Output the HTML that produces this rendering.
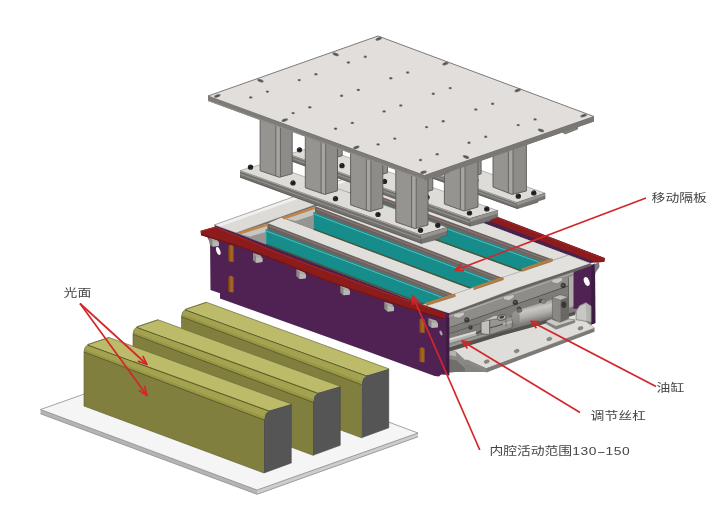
<!DOCTYPE html>
<html lang="zh">
<head>
<meta charset="utf-8">
<title>模具结构示意图</title>
<style>
html,body{margin:0;padding:0;background:#fff;}
body{width:725px;height:506px;overflow:hidden;font-family:"Liberation Sans","Noto Sans CJK SC",sans-serif;}
svg{display:block;}
</style>
</head>
<body>
<svg width="725" height="506" viewBox="0 0 725 506">
<rect width="725" height="506" fill="#ffffff"/>
<defs><filter id="soft" x="0" y="0" width="725" height="506" filterUnits="userSpaceOnUse"><feGaussianBlur stdDeviation="0.55"/></filter></defs>
<g filter="url(#soft)">
<polygon points="370,180 377,183 568,255 590,263 604.5,261.5 604.8,258 420,187" fill="#4a2050"/>
<polygon points="380,172.5 604.8,258.2 604.3,261.8 597,262.8 380,178.5" fill="#8c1e1a"/>
<polygon points="380,172.5 604.8,258.2 604.6,259.6 380,174" fill="#9a2622"/>
<polygon points="214,225 236,233 377,183 355,175" fill="#dddbd7" stroke="#8c8a87" stroke-width="0.7" stroke-linejoin="round"/>
<polygon points="216,225 220,226.4 361,176.4 357,175" fill="#f1f0ee"/>
<polygon points="236,233 424,305.2 568,255 377,183" fill="#6f6a67"/>
<polygon points="267.5,223.5 455,295.2 472,289.5 281.5,217.5" fill="#e1dfdb"/>
<polyline points="267.5,223.5 455,295.2" fill="none" stroke="#6a6560" stroke-width="0.6" stroke-linecap="butt" stroke-linejoin="round"/>
<polygon points="315,206.5 503,278.5 521,271.5 330,201.5" fill="#e1dfdb"/>
<polyline points="315,206.5 503,278.5" fill="none" stroke="#6a6560" stroke-width="0.6" stroke-linecap="butt" stroke-linejoin="round"/>
<polygon points="362,190 553,260 568,255 377,183" fill="#e1dfdb"/>
<polyline points="362,190 553,260" fill="none" stroke="#6a6560" stroke-width="0.6" stroke-linecap="butt" stroke-linejoin="round"/>
<polygon points="236,233 267.5,223.5 267.5,229.5 266,244.5" fill="#979592"/>
<polygon points="238,233.5 267.5,223.5 267.5,231.5 250,236.5" fill="#c8c6c3"/>
<polygon points="267.5,223.5 455,295.2 452,297.4 267.5,229.5" fill="#6e615e"/>
<polyline points="269.5,226.1 453,296.4" fill="none" stroke="#8b8583" stroke-width="0.8" stroke-linecap="butt" stroke-linejoin="round"/>
<polygon points="266,229.1 448.8,298.4 427,305.2 266,243.9" fill="#138d8b"/>
<polyline points="266.5,231.1 445.8,298.8" fill="none" stroke="#56b9b9" stroke-width="1" stroke-linecap="butt" stroke-linejoin="round"/>
<polyline points="266,229.1 266,243.9" fill="none" stroke="#3fb0ae" stroke-width="1" stroke-linecap="butt" stroke-linejoin="round"/>
<polyline points="266,244.1 426,305" fill="none" stroke="#48593a" stroke-width="1.4" stroke-linecap="butt" stroke-linejoin="round"/>
<polygon points="236,233 267.5,223.5 268,225.7 238.5,235" fill="#c08445"/>
<polygon points="281.5,217.5 315,206.5 315,212.5 313.5,229.6" fill="#979592"/>
<polygon points="283.5,218 315,206.5 315,214.5 295.5,221" fill="#c8c6c3"/>
<polygon points="315,206.5 503,278.5 500,280.7 315,212.5" fill="#6e615e"/>
<polyline points="317,209.1 501,279.7" fill="none" stroke="#8b8583" stroke-width="0.8" stroke-linecap="butt" stroke-linejoin="round"/>
<polygon points="313.5,212.1 496.8,281.9 475,289.5 313.5,229" fill="#138d8b"/>
<polyline points="314,214.1 493.8,282.3" fill="none" stroke="#56b9b9" stroke-width="1" stroke-linecap="butt" stroke-linejoin="round"/>
<polyline points="313.5,212.1 313.5,229" fill="none" stroke="#3fb0ae" stroke-width="1" stroke-linecap="butt" stroke-linejoin="round"/>
<polyline points="313.5,229.2 474,289.3" fill="none" stroke="#48593a" stroke-width="1.4" stroke-linecap="butt" stroke-linejoin="round"/>
<polygon points="281.5,217.5 315,206.5 315.5,208.7 284,219.5" fill="#c08445"/>
<polygon points="330,201.5 362,190 362,196 360.5,212.7" fill="#979592"/>
<polygon points="332,202 362,190 362,198 344,205" fill="#c8c6c3"/>
<polygon points="362,190 553,260 550,262.2 362,196" fill="#6e615e"/>
<polyline points="364,192.6 551,261.2" fill="none" stroke="#8b8583" stroke-width="0.8" stroke-linecap="butt" stroke-linejoin="round"/>
<polygon points="360.5,195.7 546.6,263.5 524,271.5 360.5,212.1" fill="#138d8b"/>
<polyline points="361,197.7 543.6,263.9" fill="none" stroke="#56b9b9" stroke-width="1" stroke-linecap="butt" stroke-linejoin="round"/>
<polyline points="360.5,195.7 360.5,212.1" fill="none" stroke="#3fb0ae" stroke-width="1" stroke-linecap="butt" stroke-linejoin="round"/>
<polyline points="360.5,212.3 523,271.3" fill="none" stroke="#48593a" stroke-width="1.4" stroke-linecap="butt" stroke-linejoin="round"/>
<polygon points="330,201.5 362,190 362.5,192.2 332.5,203.5" fill="#c08445"/>
<polygon points="422.5,304.8 449,313.4 515,288.8 590.5,263.6 568.6,255" fill="#e3e1dd" stroke="#8c8a87" stroke-width="0.5" stroke-linejoin="round"/>
<polyline points="426,304.2 455.4,294.9" fill="none" stroke="#b97c3c" stroke-width="2.8" stroke-linecap="butt" stroke-linejoin="round"/>
<polyline points="426,305.7 455.4,296.4" fill="none" stroke="#7a6a58" stroke-width="0.6" stroke-linecap="butt" stroke-linejoin="round"/>
<polyline points="473.5,288.3 503.5,278.2" fill="none" stroke="#b97c3c" stroke-width="2.8" stroke-linecap="butt" stroke-linejoin="round"/>
<polyline points="473.5,289.8 503.5,279.7" fill="none" stroke="#7a6a58" stroke-width="0.6" stroke-linecap="butt" stroke-linejoin="round"/>
<polyline points="522,269.9 552.5,259.7" fill="none" stroke="#b97c3c" stroke-width="2.8" stroke-linecap="butt" stroke-linejoin="round"/>
<polyline points="522,271.4 552.5,261.2" fill="none" stroke="#7a6a58" stroke-width="0.6" stroke-linecap="butt" stroke-linejoin="round"/>
<polygon points="449,313 590.5,263.6 595,265 595,323 486,372 449,372" fill="#858380"/>
<polygon points="449,313.4 515,288.8 590.5,263.6 590.5,266 515,291.2 449,315.8" fill="#64625f"/>
<polygon points="449,315.6 574,272 574,273.6 449,317.2" fill="#adaba8"/>
<polygon points="449,317.2 574,273.6 574,283 449,327" fill="#8f8d8a"/>
<polyline points="450,327.6 531,299.2 574,284" fill="none" stroke="#4f4d4b" stroke-width="1" stroke-linecap="butt" stroke-linejoin="round"/>
<polygon points="449,328 574,284.5 574,312 449,348" fill="#7d7b78"/>
<polyline points="450,333.5 480,323.5" fill="none" stroke="#5a5856" stroke-width="0.8" stroke-linecap="butt" stroke-linejoin="round"/>
<polygon points="453.7,313.9 464.2,311.9 464.2,315.1 459.2,318.1 453.7,316.9" fill="#c9c7c4" stroke="#6d6b69" stroke-width="0.4" stroke-linejoin="round"/>
<polygon points="503.5,296.4 514,294.4 514,297.6 509,300.6 503.5,299.4" fill="#c9c7c4" stroke="#6d6b69" stroke-width="0.4" stroke-linejoin="round"/>
<polygon points="552,279.4 562.5,277.4 562.5,280.6 557.5,283.6 552,282.4" fill="#c9c7c4" stroke="#6d6b69" stroke-width="0.4" stroke-linejoin="round"/>
<ellipse cx="466.8" cy="319.9" rx="2.6" ry="2.7" fill="#3a3938"/>
<ellipse cx="466.4" cy="319.3" rx="1.2" ry="1" fill="#5c5b59"/>
<ellipse cx="470.5" cy="327.4" rx="2.1" ry="2.2" fill="#3a3938"/>
<ellipse cx="470.1" cy="326.8" rx="0.9" ry="0.8" fill="#5c5b59"/>
<ellipse cx="515.3" cy="302.5" rx="2.6" ry="2.7" fill="#3a3938"/>
<ellipse cx="514.9" cy="301.9" rx="1.2" ry="1" fill="#5c5b59"/>
<ellipse cx="519" cy="308.7" rx="2.1" ry="2.2" fill="#3a3938"/>
<ellipse cx="518.6" cy="308.1" rx="0.9" ry="0.8" fill="#5c5b59"/>
<ellipse cx="563.2" cy="285.5" rx="2.6" ry="2.7" fill="#3a3938"/>
<ellipse cx="562.8" cy="284.9" rx="1.2" ry="1" fill="#5c5b59"/>
<ellipse cx="541" cy="301" rx="2" ry="2.1" fill="#3a3938"/>
<ellipse cx="540.6" cy="300.4" rx="0.9" ry="0.8" fill="#5c5b59"/>
<polygon points="451,351 500,335.5 575,313 594.5,328 486.3,368.6 467.4,360 464.9,360.2 456.2,352" fill="#dfddd9" stroke="#7f7d7a" stroke-width="0.5" stroke-linejoin="round"/>
<polygon points="456.2,352 464.9,360.2 464.9,364.8 456.2,356.6" fill="#8b8986"/>
<polygon points="464.9,360.2 467.4,360 486.3,368.6 486.3,372.6 467.4,364 464.9,364.8" fill="#8a8885"/>
<polygon points="486.3,368.6 594.5,328 594.5,331.8 486.3,372.6" fill="#7b7976"/>
<polygon points="449,350 456.2,352 456.2,356.6 464.9,364.8 464.9,371.2 449,372.5" fill="#8a8885"/>
<polygon points="449,350 456.2,352 456.2,356.6 449,355" fill="#b4b2af"/>
<polygon points="449,359 456.5,360.5 464.9,368 464.9,371.2 449,372.5" fill="#6f6d6a"/>
<ellipse cx="486.7" cy="361.6" rx="2.6" ry="1.6" fill="#8b8986" transform="rotate(-18 486.7 361.6)" stroke="#6b6966" stroke-width="0.5"/>
<ellipse cx="516.7" cy="351" rx="2.6" ry="1.6" fill="#8b8986" transform="rotate(-18 516.7 351)" stroke="#6b6966" stroke-width="0.5"/>
<ellipse cx="549.3" cy="339" rx="2.6" ry="1.6" fill="#8b8986" transform="rotate(-18 549.3 339)" stroke="#6b6966" stroke-width="0.5"/>
<ellipse cx="580.5" cy="328.3" rx="2.6" ry="1.6" fill="#8b8986" transform="rotate(-18 580.5 328.3)" stroke="#6b6966" stroke-width="0.5"/>
<polygon points="449,347.6 500,332.2 541.5,321 575,311.6 575,315 541.5,324.8 500,336 449,351.6" fill="#55534f"/>
<polygon points="449,345.6 512,325.2 512,326.8 449,347.6" fill="#9d9b98"/>
<polygon points="449,338.6 476.1,331.1 476.6,336.5 449,344.8" fill="#b7b5b1"/>
<polygon points="449,338.6 476.1,331.1 476.3,332.9 449,340.6" fill="#d9d7d3"/>
<polygon points="449,343.2 476.5,335.2 476.6,336.5 449,344.8" fill="#84827f"/>
<polyline points="476,333.5 482,330.5" fill="none" stroke="#4e4c4a" stroke-width="1.8" stroke-linecap="butt" stroke-linejoin="round"/>
<polygon points="481.1,321.8 489.8,319.9 489.8,334.8 481.1,333.6" fill="#c2c0bc" stroke="#4f4d4b" stroke-width="0.7" stroke-linejoin="round"/>
<polygon points="489.8,319.9 512.2,316.4 512.2,327.6 489.8,334.8" fill="#989693" stroke="#4f4d4b" stroke-width="0.6" stroke-linejoin="round"/>
<polygon points="481.1,321.8 494.5,315.6 512.2,316.4 489.8,319.9" fill="#c9c7c3" stroke="#5f5d5b" stroke-width="0.5" stroke-linejoin="round"/>
<ellipse cx="501.8" cy="317.6" rx="4.6" ry="2.7" fill="#a9a7a4" transform="rotate(-12 501.8 317.6)" stroke="#4f4d4b" stroke-width="0.8"/>
<ellipse cx="501.8" cy="317.2" rx="2.3" ry="1.3" fill="#3a3938" transform="rotate(-12 501.8 317.2)"/>
<polyline points="489.8,328 512.2,321.5" fill="none" stroke="#4b4a48" stroke-width="1" stroke-linecap="butt" stroke-linejoin="round"/>
<polygon points="503,323.3 512.2,320.7 512.2,322.6 503,325.2" fill="#b9b7b4"/>
<polyline points="506,318.5 506,326.5" fill="none" stroke="#5f5d5b" stroke-width="0.7" stroke-linecap="butt" stroke-linejoin="round"/>
<defs><linearGradient id="cyl" gradientUnits="userSpaceOnUse" x1="534" y1="304.5" x2="538" y2="321.5"><stop offset="0" stop-color="#a5a3a0"/><stop offset="0.25" stop-color="#cac8c4"/><stop offset="0.6" stop-color="#aeaca9"/><stop offset="1" stop-color="#787673"/></linearGradient></defs>
<polygon points="512.4,318 512.8,313.6 515.2,311 519,309.8 556,298.2 556,315.2 519.5,325 515.4,324.2 513,321.6" fill="url(#cyl)"/>
<polygon points="512.4,318 512.8,313.6 515.2,311 519,309.8 519.8,317 519.5,325 515.4,324.2 513,321.6" fill="#84827f" opacity="0.75"/>
<ellipse cx="519.4" cy="310.4" rx="2.6" ry="2" fill="#6f6d6a" stroke="#4f4d4b" stroke-width="0.5"/>
<ellipse cx="543.5" cy="301.4" rx="2.6" ry="2" fill="#8a8885" stroke="#55534f" stroke-width="0.5"/>
<polygon points="552.4,297.5 560,294.8 568.5,297 568.5,318.5 560,322 552.4,319" fill="#8a8885" stroke="#55534f" stroke-width="0.5" stroke-linejoin="round"/>
<polygon points="552.4,297.5 560,294.8 568.5,297 560.5,300.2" fill="#bdbbb8" stroke="#55534f" stroke-width="0.4" stroke-linejoin="round"/>
<polygon points="560.5,300.2 568.5,297 568.5,318.5 560.5,322" fill="#6a6865"/>
<ellipse cx="563.8" cy="304.8" rx="2.6" ry="3.2" fill="#383736"/>
<polygon points="546.8,320.6 552.4,318.6 552.4,319.4 560,322.4 569,319 574.8,319.8 574.8,322.5 556,329.2 546.8,324" fill="#cbc9c5" stroke="#605e5c" stroke-width="0.5" stroke-linejoin="round"/>
<polygon points="546.8,321.8 556,326 574.8,320 574.8,322.5 556,329.2 546.8,324" fill="#84827f"/>
<polygon points="568.5,277.5 573.6,275.6 573.6,306 568.5,308" fill="#b0aeab"/>
<polyline points="568.5,277.5 568.5,308" fill="none" stroke="#55534f" stroke-width="0.7" stroke-linecap="butt" stroke-linejoin="round"/>
<polygon points="573.6,272 590.5,266 595,263.5 595.3,323 591.5,324.5 591.5,307 573.6,309" fill="#4f2352"/>
<polygon points="591.3,266 595,263.5 595.3,323 591.3,324.5" fill="#3d1a42"/>
<polygon points="594.5,264 599,262.5 599.5,267 596,272 595,274" fill="#7b7880"/>
<ellipse cx="586.7" cy="281.5" rx="2.6" ry="4.6" fill="#ffffff" transform="rotate(-22 586.7 281.5)"/>
<polygon points="576,311 579.5,305.5 586,302.4 591.2,306 591.2,322.3 576,319.8" fill="#b5b3b0" stroke="#6d6b69" stroke-width="0.5" stroke-linejoin="round"/>
<polygon points="577,311.5 580.3,306.6 585.8,304 586.5,320.5 577,318.8" fill="#c9c7c4"/>
<polygon points="210,236 440,312 449.2,313.2 449.2,375.4 446.3,374.8 441.2,374.6 439,376.6 434.7,376 365,350.5 220,298.5 220,293.3 210.5,290" fill="#4f2352"/>
<polygon points="446.3,317 449.2,318 449.2,375.4 446.3,374.8" fill="#3d1a42"/>
<polygon points="206,234 212,236.5 212,243 210,243" fill="#6a3f70"/>
<polygon points="228.4,246 231,244.5 233.6,246.3 233.6,262 228.4,261.2" fill="#9c5c22"/>
<polyline points="228.8,246 228.8,261.2" fill="none" stroke="#6e3b12" stroke-width="0.9" stroke-linecap="butt" stroke-linejoin="round"/>
<polyline points="231.8,245.9 231.8,261.7" fill="none" stroke="#ad6c2e" stroke-width="0.9" stroke-linecap="butt" stroke-linejoin="round"/>
<polygon points="228.4,277 231,275.5 233.6,277.3 233.6,292.5 228.4,291.7" fill="#9c5c22"/>
<polyline points="228.8,277 228.8,291.7" fill="none" stroke="#6e3b12" stroke-width="0.9" stroke-linecap="butt" stroke-linejoin="round"/>
<polyline points="231.8,276.9 231.8,292.2" fill="none" stroke="#ad6c2e" stroke-width="0.9" stroke-linecap="butt" stroke-linejoin="round"/>
<polygon points="419.4,319.5 422,318 424.6,319.8 424.6,333 419.4,332.2" fill="#9c5c22"/>
<polyline points="419.8,319.5 419.8,332.2" fill="none" stroke="#6e3b12" stroke-width="0.9" stroke-linecap="butt" stroke-linejoin="round"/>
<polyline points="422.8,319.4 422.8,332.7" fill="none" stroke="#ad6c2e" stroke-width="0.9" stroke-linecap="butt" stroke-linejoin="round"/>
<polygon points="419.4,348.5 422,347 424.6,348.8 424.6,362.5 419.4,361.7" fill="#9c5c22"/>
<polyline points="419.8,348.5 419.8,361.7" fill="none" stroke="#6e3b12" stroke-width="0.9" stroke-linecap="butt" stroke-linejoin="round"/>
<polyline points="422.8,348.4 422.8,362.2" fill="none" stroke="#ad6c2e" stroke-width="0.9" stroke-linecap="butt" stroke-linejoin="round"/>
<ellipse cx="218.3" cy="251" rx="1.9" ry="4.2" fill="#ffffff" transform="rotate(-20 218.3 251)"/>
<ellipse cx="441" cy="333" rx="1.3" ry="2.6" fill="#a9a5aa" transform="rotate(-25 441 333)"/>
<polygon points="209.6,237 217.2,239.4 219,242.4 218.8,246 212.6,246.6 209.6,244" fill="#aaa8a5"/>
<polygon points="209.6,237 212.6,240 212.6,246.6 209.6,244" fill="#898784"/>
<polygon points="212.6,241.2 219,242.4 218.8,246 212.6,246.6" fill="#b9b7b4"/>
<polygon points="253.1,253.1 260.7,255.5 262.5,258.5 262.3,262.1 256.1,262.7 253.1,260.1" fill="#aaa8a5"/>
<polygon points="253.1,253.1 256.1,256.1 256.1,262.7 253.1,260.1" fill="#898784"/>
<polygon points="256.1,257.3 262.5,258.5 262.3,262.1 256.1,262.7" fill="#b9b7b4"/>
<polygon points="296.6,269.3 304.2,271.7 306,274.7 305.8,278.3 299.6,278.9 296.6,276.3" fill="#aaa8a5"/>
<polygon points="296.6,269.3 299.6,272.3 299.6,278.9 296.6,276.3" fill="#898784"/>
<polygon points="299.6,273.5 306,274.7 305.8,278.3 299.6,278.9" fill="#b9b7b4"/>
<polygon points="340.6,285.6 348.2,288 350,291 349.8,294.6 343.6,295.2 340.6,292.6" fill="#aaa8a5"/>
<polygon points="340.6,285.6 343.6,288.6 343.6,295.2 340.6,292.6" fill="#898784"/>
<polygon points="343.6,289.8 350,291 349.8,294.6 343.6,295.2" fill="#b9b7b4"/>
<polygon points="384.6,301.9 392.2,304.3 394,307.3 393.8,310.9 387.6,311.5 384.6,308.9" fill="#aaa8a5"/>
<polygon points="384.6,301.9 387.6,304.9 387.6,311.5 384.6,308.9" fill="#898784"/>
<polygon points="387.6,306.1 394,307.3 393.8,310.9 387.6,311.5" fill="#b9b7b4"/>
<polygon points="428.6,318.2 436.2,320.6 438,323.6 437.8,327.2 431.6,327.8 428.6,325.2" fill="#aaa8a5"/>
<polygon points="428.6,318.2 431.6,321.2 431.6,327.8 428.6,325.2" fill="#898784"/>
<polygon points="431.6,322.4 438,323.6 437.8,327.2 431.6,327.8" fill="#b9b7b4"/>
<polygon points="214.5,225.2 236,233 424,305.2 449.3,313.6 446,317 215.5,229" fill="#4a2050"/>
<polygon points="200.4,230.8 215.5,226.4 245,238.4 275,251 320,268.2 390,293.6 430,307.6 446.5,314 443.5,319 410,309.2 360,292.4 320,278.4 285,264 245,248.6 201,235" fill="#8c1e1a"/>
<polyline points="201,234.6 245,248.2 285,263.6 320,278 360,292 410,308.8 443.5,318.6" fill="none" stroke="#6f1216" stroke-width="1.2" stroke-linecap="butt" stroke-linejoin="round"/>
<polyline points="201.5,231.2 216,227.2 245,239.2 275,251.8 320,269 390,294.4 430,308.4" fill="none" stroke="#a0262a" stroke-width="1" stroke-linecap="butt" stroke-linejoin="round"/>
<polygon points="336,138.1 517,202.6 545,193.2 364,128.7" fill="#dedcd8" stroke="#7f7d7a" stroke-width="0.5" stroke-linejoin="round"/>
<polygon points="336,138.1 517,202.6 517,208.8 336,143.9" fill="#716f6c"/>
<polyline points="336,138.6 517,203.2" fill="none" stroke="#a5a3a0" stroke-width="1" stroke-linecap="butt" stroke-linejoin="round"/>
<polyline points="336,141 517,205.7" fill="none" stroke="#93918e" stroke-width="1.2" stroke-linecap="butt" stroke-linejoin="round"/>
<polyline points="336,143.5 517,208.4" fill="none" stroke="#5e5c5a" stroke-width="0.8" stroke-linecap="butt" stroke-linejoin="round"/>
<polygon points="517,202.6 545,193.2 545,198.8 538,201 538,202.2 517,208.8" fill="#777572" stroke="#555351" stroke-width="0.6" stroke-linejoin="round"/>
<polygon points="517,202.6 545,193.2 545,195.7 517,205.4" fill="#969491"/>
<ellipse cx="348.3" cy="133.2" rx="2.7" ry="2.3" fill="#2a2a2a"/>
<ellipse cx="348.3" cy="132" rx="2.2" ry="1.7" fill="#1a1a1a"/>
<ellipse cx="347.7" cy="131.5" rx="0.9" ry="0.5" fill="#5a5a5a"/>
<ellipse cx="390.8" cy="149" rx="2.7" ry="2.3" fill="#2a2a2a"/>
<ellipse cx="390.8" cy="147.8" rx="2.2" ry="1.7" fill="#1a1a1a"/>
<ellipse cx="390.2" cy="147.3" rx="0.9" ry="0.5" fill="#5a5a5a"/>
<ellipse cx="433.3" cy="164.8" rx="2.7" ry="2.3" fill="#2a2a2a"/>
<ellipse cx="433.3" cy="163.6" rx="2.2" ry="1.7" fill="#1a1a1a"/>
<ellipse cx="432.7" cy="163.1" rx="0.9" ry="0.5" fill="#5a5a5a"/>
<ellipse cx="475.8" cy="180.6" rx="2.7" ry="2.3" fill="#2a2a2a"/>
<ellipse cx="475.8" cy="179.4" rx="2.2" ry="1.7" fill="#1a1a1a"/>
<ellipse cx="475.2" cy="178.9" rx="0.9" ry="0.5" fill="#5a5a5a"/>
<ellipse cx="518.3" cy="196.4" rx="2.7" ry="2.3" fill="#2a2a2a"/>
<ellipse cx="518.3" cy="195.2" rx="2.2" ry="1.7" fill="#1a1a1a"/>
<ellipse cx="517.7" cy="194.7" rx="0.9" ry="0.5" fill="#5a5a5a"/>
<ellipse cx="533.8" cy="193.2" rx="2.7" ry="2.3" fill="#2a2a2a"/>
<ellipse cx="533.8" cy="192" rx="2.2" ry="1.7" fill="#1a1a1a"/>
<ellipse cx="533.2" cy="191.5" rx="0.9" ry="0.5" fill="#5a5a5a"/>
<polygon points="357.2,79.7 376.2,87.1 376.2,143.1 357.2,135.7" fill="#969491"/>
<polygon points="376.2,87.1 390.6,83.7 390.6,139.7 376.2,143.1" fill="#8e8c89"/>
<polygon points="372.6,85.7 377.2,86.8 377.2,142.8 372.6,141.7" fill="#a7a5a2"/>
<polyline points="372.6,85.7 372.6,141.7" fill="none" stroke="#5f5d5b" stroke-width="0.9" stroke-linecap="butt" stroke-linejoin="round"/>
<polyline points="377.2,87.1 377.2,142.8" fill="none" stroke="#5f5d5b" stroke-width="0.9" stroke-linecap="butt" stroke-linejoin="round"/>
<polyline points="357.2,79.7 357.2,135.7 376.2,143.1 390.6,139.7 390.6,83.7" fill="none" stroke="#5a5856" stroke-width="0.9" stroke-linecap="butt" stroke-linejoin="round"/>
<polygon points="402.5,96.8 421.5,104.2 421.5,160.2 402.5,152.8" fill="#969491"/>
<polygon points="421.5,104.2 435.9,100.8 435.9,156.8 421.5,160.2" fill="#8e8c89"/>
<polygon points="417.9,102.8 422.5,103.9 422.5,159.9 417.9,158.8" fill="#a7a5a2"/>
<polyline points="417.9,102.8 417.9,158.8" fill="none" stroke="#5f5d5b" stroke-width="0.9" stroke-linecap="butt" stroke-linejoin="round"/>
<polyline points="422.5,104.2 422.5,159.9" fill="none" stroke="#5f5d5b" stroke-width="0.9" stroke-linecap="butt" stroke-linejoin="round"/>
<polyline points="402.5,96.8 402.5,152.8 421.5,160.2 435.9,156.8 435.9,100.8" fill="none" stroke="#5a5856" stroke-width="0.9" stroke-linecap="butt" stroke-linejoin="round"/>
<polygon points="447.8,113.9 466.8,121.3 466.8,177.3 447.8,169.9" fill="#969491"/>
<polygon points="466.8,121.3 481.1,117.9 481.1,173.9 466.8,177.3" fill="#8e8c89"/>
<polygon points="463.1,119.9 467.8,121 467.8,177 463.1,175.9" fill="#a7a5a2"/>
<polyline points="463.1,119.9 463.1,175.9" fill="none" stroke="#5f5d5b" stroke-width="0.9" stroke-linecap="butt" stroke-linejoin="round"/>
<polyline points="467.8,121.3 467.8,177" fill="none" stroke="#5f5d5b" stroke-width="0.9" stroke-linecap="butt" stroke-linejoin="round"/>
<polyline points="447.8,113.9 447.8,169.9 466.8,177.3 481.1,173.9 481.1,117.9" fill="none" stroke="#5a5856" stroke-width="0.9" stroke-linecap="butt" stroke-linejoin="round"/>
<polygon points="493,131 512,138.4 512,194.4 493,187" fill="#969491"/>
<polygon points="512,138.4 526.4,135 526.4,191 512,194.4" fill="#8e8c89"/>
<polygon points="508.4,137 513,138.1 513,194.1 508.4,193" fill="#a7a5a2"/>
<polyline points="508.4,137 508.4,193" fill="none" stroke="#5f5d5b" stroke-width="0.9" stroke-linecap="butt" stroke-linejoin="round"/>
<polyline points="513,138.4 513,194.1" fill="none" stroke="#5f5d5b" stroke-width="0.9" stroke-linecap="butt" stroke-linejoin="round"/>
<polyline points="493,131 493,187 512,194.4 526.4,191 526.4,135" fill="none" stroke="#5a5856" stroke-width="0.9" stroke-linecap="butt" stroke-linejoin="round"/>
<polygon points="289,154.1 470,218.6 497.6,210.6 316.6,146.1" fill="#dedcd8" stroke="#7f7d7a" stroke-width="0.5" stroke-linejoin="round"/>
<polygon points="289,154.1 470,218.6 470,226.2 289,160.5" fill="#716f6c"/>
<polyline points="289,154.6 470,219.2" fill="none" stroke="#a5a3a0" stroke-width="1" stroke-linecap="butt" stroke-linejoin="round"/>
<polyline points="289,157.3 470,222.4" fill="none" stroke="#93918e" stroke-width="1.2" stroke-linecap="butt" stroke-linejoin="round"/>
<polyline points="289,160.1 470,225.8" fill="none" stroke="#5e5c5a" stroke-width="0.8" stroke-linecap="butt" stroke-linejoin="round"/>
<polygon points="470,218.6 497.6,210.6 497.6,217.4 490.6,219.6 490.6,220.8 470,226.2" fill="#777572" stroke="#555351" stroke-width="0.6" stroke-linejoin="round"/>
<polygon points="470,218.6 497.6,210.6 497.6,213.6 470,222" fill="#969491"/>
<ellipse cx="299.5" cy="150.1" rx="2.7" ry="2.3" fill="#2a2a2a"/>
<ellipse cx="299.5" cy="148.9" rx="2.2" ry="1.7" fill="#1a1a1a"/>
<ellipse cx="298.9" cy="148.4" rx="0.9" ry="0.5" fill="#5a5a5a"/>
<ellipse cx="342" cy="165.9" rx="2.7" ry="2.3" fill="#2a2a2a"/>
<ellipse cx="342" cy="164.7" rx="2.2" ry="1.7" fill="#1a1a1a"/>
<ellipse cx="341.4" cy="164.2" rx="0.9" ry="0.5" fill="#5a5a5a"/>
<ellipse cx="384.5" cy="181.7" rx="2.7" ry="2.3" fill="#2a2a2a"/>
<ellipse cx="384.5" cy="180.5" rx="2.2" ry="1.7" fill="#1a1a1a"/>
<ellipse cx="383.9" cy="180" rx="0.9" ry="0.5" fill="#5a5a5a"/>
<ellipse cx="427" cy="197.5" rx="2.7" ry="2.3" fill="#2a2a2a"/>
<ellipse cx="427" cy="196.3" rx="2.2" ry="1.7" fill="#1a1a1a"/>
<ellipse cx="426.4" cy="195.8" rx="0.9" ry="0.5" fill="#5a5a5a"/>
<ellipse cx="469.5" cy="213.3" rx="2.7" ry="2.3" fill="#2a2a2a"/>
<ellipse cx="469.5" cy="212.1" rx="2.2" ry="1.7" fill="#1a1a1a"/>
<ellipse cx="468.9" cy="211.6" rx="0.9" ry="0.5" fill="#5a5a5a"/>
<ellipse cx="486.8" cy="209.2" rx="2.7" ry="2.3" fill="#2a2a2a"/>
<ellipse cx="486.8" cy="208" rx="2.2" ry="1.7" fill="#1a1a1a"/>
<ellipse cx="486.2" cy="207.5" rx="0.9" ry="0.5" fill="#5a5a5a"/>
<polygon points="308.6,96.7 328.2,103.7 328.2,159.7 308.6,152.7" fill="#969491"/>
<polygon points="328.2,103.7 342.2,99.7 342.2,155.7 328.2,159.7" fill="#8e8c89"/>
<polygon points="324.6,102.4 329.2,103.4 329.2,159.4 324.6,158.4" fill="#a7a5a2"/>
<polyline points="324.6,102.4 324.6,158.4" fill="none" stroke="#5f5d5b" stroke-width="0.9" stroke-linecap="butt" stroke-linejoin="round"/>
<polyline points="329.2,103.7 329.2,159.4" fill="none" stroke="#5f5d5b" stroke-width="0.9" stroke-linecap="butt" stroke-linejoin="round"/>
<polyline points="308.6,96.7 308.6,152.7 328.2,159.7 342.2,155.7 342.2,99.7" fill="none" stroke="#5a5856" stroke-width="0.9" stroke-linecap="butt" stroke-linejoin="round"/>
<polygon points="353.9,113.8 373.5,120.8 373.5,176.8 353.9,169.8" fill="#969491"/>
<polygon points="373.5,120.8 387.5,116.8 387.5,172.8 373.5,176.8" fill="#8e8c89"/>
<polygon points="369.9,119.5 374.5,120.5 374.5,176.5 369.9,175.5" fill="#a7a5a2"/>
<polyline points="369.9,119.5 369.9,175.5" fill="none" stroke="#5f5d5b" stroke-width="0.9" stroke-linecap="butt" stroke-linejoin="round"/>
<polyline points="374.5,120.8 374.5,176.5" fill="none" stroke="#5f5d5b" stroke-width="0.9" stroke-linecap="butt" stroke-linejoin="round"/>
<polyline points="353.9,113.8 353.9,169.8 373.5,176.8 387.5,172.8 387.5,116.8" fill="none" stroke="#5a5856" stroke-width="0.9" stroke-linecap="butt" stroke-linejoin="round"/>
<polygon points="399.1,130.9 418.8,137.9 418.8,193.9 399.1,186.9" fill="#969491"/>
<polygon points="418.8,137.9 432.8,133.9 432.8,189.9 418.8,193.9" fill="#8e8c89"/>
<polygon points="415.1,136.6 419.8,137.6 419.8,193.6 415.1,192.6" fill="#a7a5a2"/>
<polyline points="415.1,136.6 415.1,192.6" fill="none" stroke="#5f5d5b" stroke-width="0.9" stroke-linecap="butt" stroke-linejoin="round"/>
<polyline points="419.8,137.9 419.8,193.6" fill="none" stroke="#5f5d5b" stroke-width="0.9" stroke-linecap="butt" stroke-linejoin="round"/>
<polyline points="399.1,130.9 399.1,186.9 418.8,193.9 432.8,189.9 432.8,133.9" fill="none" stroke="#5a5856" stroke-width="0.9" stroke-linecap="butt" stroke-linejoin="round"/>
<polygon points="444.4,148 464,155 464,211 444.4,204" fill="#969491"/>
<polygon points="464,155 478,151 478,207 464,211" fill="#8e8c89"/>
<polygon points="460.4,153.7 465,154.7 465,210.7 460.4,209.7" fill="#a7a5a2"/>
<polyline points="460.4,153.7 460.4,209.7" fill="none" stroke="#5f5d5b" stroke-width="0.9" stroke-linecap="butt" stroke-linejoin="round"/>
<polyline points="465,155 465,210.7" fill="none" stroke="#5f5d5b" stroke-width="0.9" stroke-linecap="butt" stroke-linejoin="round"/>
<polyline points="444.4,148 444.4,204 464,211 478,207 478,151" fill="none" stroke="#5a5856" stroke-width="0.9" stroke-linecap="butt" stroke-linejoin="round"/>
<polygon points="240,170.5 421,235 447,227.5 266,163" fill="#dedcd8" stroke="#7f7d7a" stroke-width="0.5" stroke-linejoin="round"/>
<polygon points="240,170.5 421,235 421,243.6 240,177.5" fill="#716f6c"/>
<polyline points="240,171 421,235.6" fill="none" stroke="#a5a3a0" stroke-width="1" stroke-linecap="butt" stroke-linejoin="round"/>
<polyline points="240,174 421,239.3" fill="none" stroke="#93918e" stroke-width="1.2" stroke-linecap="butt" stroke-linejoin="round"/>
<polyline points="240,177.1 421,243.2" fill="none" stroke="#5e5c5a" stroke-width="0.8" stroke-linecap="butt" stroke-linejoin="round"/>
<polygon points="421,235 447,227.5 447,235.2 440,237.4 440,238.6 421,243.6" fill="#777572" stroke="#555351" stroke-width="0.6" stroke-linejoin="round"/>
<polygon points="421,235 447,227.5 447,230.9 421,238.9" fill="#969491"/>
<ellipse cx="250.5" cy="167.4" rx="2.7" ry="2.3" fill="#2a2a2a"/>
<ellipse cx="250.5" cy="166.2" rx="2.2" ry="1.7" fill="#1a1a1a"/>
<ellipse cx="249.9" cy="165.7" rx="0.9" ry="0.5" fill="#5a5a5a"/>
<ellipse cx="293" cy="183.2" rx="2.7" ry="2.3" fill="#2a2a2a"/>
<ellipse cx="293" cy="182" rx="2.2" ry="1.7" fill="#1a1a1a"/>
<ellipse cx="292.4" cy="181.5" rx="0.9" ry="0.5" fill="#5a5a5a"/>
<ellipse cx="335.5" cy="199" rx="2.7" ry="2.3" fill="#2a2a2a"/>
<ellipse cx="335.5" cy="197.8" rx="2.2" ry="1.7" fill="#1a1a1a"/>
<ellipse cx="334.9" cy="197.3" rx="0.9" ry="0.5" fill="#5a5a5a"/>
<ellipse cx="378" cy="214.8" rx="2.7" ry="2.3" fill="#2a2a2a"/>
<ellipse cx="378" cy="213.6" rx="2.2" ry="1.7" fill="#1a1a1a"/>
<ellipse cx="377.4" cy="213.1" rx="0.9" ry="0.5" fill="#5a5a5a"/>
<ellipse cx="420.5" cy="230.6" rx="2.7" ry="2.3" fill="#2a2a2a"/>
<ellipse cx="420.5" cy="229.4" rx="2.2" ry="1.7" fill="#1a1a1a"/>
<ellipse cx="419.9" cy="228.9" rx="0.9" ry="0.5" fill="#5a5a5a"/>
<ellipse cx="437.8" cy="225.6" rx="2.7" ry="2.3" fill="#2a2a2a"/>
<ellipse cx="437.8" cy="224.4" rx="2.2" ry="1.7" fill="#1a1a1a"/>
<ellipse cx="437.2" cy="223.9" rx="0.9" ry="0.5" fill="#5a5a5a"/>
<polygon points="260.1,114.7 279.4,121.3 279.4,177.3 260.1,170.7" fill="#969491"/>
<polygon points="279.4,121.3 292.2,117.7 292.2,173.7 279.4,177.3" fill="#8e8c89"/>
<polygon points="275.8,120.1 280.4,121 280.4,177 275.8,176.1" fill="#a7a5a2"/>
<polyline points="275.8,120.1 275.8,176.1" fill="none" stroke="#5f5d5b" stroke-width="0.9" stroke-linecap="butt" stroke-linejoin="round"/>
<polyline points="280.4,121.3 280.4,177" fill="none" stroke="#5f5d5b" stroke-width="0.9" stroke-linecap="butt" stroke-linejoin="round"/>
<polyline points="260.1,114.7 260.1,170.7 279.4,177.3 292.2,173.7 292.2,117.7" fill="none" stroke="#5a5856" stroke-width="0.9" stroke-linecap="butt" stroke-linejoin="round"/>
<polygon points="305.3,131.8 324.7,138.4 324.7,194.4 305.3,187.8" fill="#969491"/>
<polygon points="324.7,138.4 337.5,134.8 337.5,190.8 324.7,194.4" fill="#8e8c89"/>
<polygon points="321.1,137.2 325.7,138.1 325.7,194.1 321.1,193.2" fill="#a7a5a2"/>
<polyline points="321.1,137.2 321.1,193.2" fill="none" stroke="#5f5d5b" stroke-width="0.9" stroke-linecap="butt" stroke-linejoin="round"/>
<polyline points="325.7,138.4 325.7,194.1" fill="none" stroke="#5f5d5b" stroke-width="0.9" stroke-linecap="butt" stroke-linejoin="round"/>
<polyline points="305.3,131.8 305.3,187.8 324.7,194.4 337.5,190.8 337.5,134.8" fill="none" stroke="#5a5856" stroke-width="0.9" stroke-linecap="butt" stroke-linejoin="round"/>
<polygon points="350.6,148.9 369.9,155.5 369.9,211.5 350.6,204.9" fill="#969491"/>
<polygon points="369.9,155.5 382.8,151.9 382.8,207.9 369.9,211.5" fill="#8e8c89"/>
<polygon points="366.3,154.3 370.9,155.2 370.9,211.2 366.3,210.3" fill="#a7a5a2"/>
<polyline points="366.3,154.3 366.3,210.3" fill="none" stroke="#5f5d5b" stroke-width="0.9" stroke-linecap="butt" stroke-linejoin="round"/>
<polyline points="370.9,155.5 370.9,211.2" fill="none" stroke="#5f5d5b" stroke-width="0.9" stroke-linecap="butt" stroke-linejoin="round"/>
<polyline points="350.6,148.9 350.6,204.9 369.9,211.5 382.8,207.9 382.8,151.9" fill="none" stroke="#5a5856" stroke-width="0.9" stroke-linecap="butt" stroke-linejoin="round"/>
<polygon points="395.8,166 415.2,172.6 415.2,228.6 395.8,222" fill="#969491"/>
<polygon points="415.2,172.6 428,169 428,225 415.2,228.6" fill="#8e8c89"/>
<polygon points="411.6,171.4 416.2,172.3 416.2,228.3 411.6,227.4" fill="#a7a5a2"/>
<polyline points="411.6,171.4 411.6,227.4" fill="none" stroke="#5f5d5b" stroke-width="0.9" stroke-linecap="butt" stroke-linejoin="round"/>
<polyline points="416.2,172.6 416.2,228.3" fill="none" stroke="#5f5d5b" stroke-width="0.9" stroke-linecap="butt" stroke-linejoin="round"/>
<polyline points="395.8,166 395.8,222 415.2,228.6 428,225 428,169" fill="none" stroke="#5a5856" stroke-width="0.9" stroke-linecap="butt" stroke-linejoin="round"/>
<polygon points="435,173.5 449,168.5 449,173 437,177.5 435,176.5" fill="#77757a"/>
<polygon points="563,128.5 577.6,123.5 577.6,129 565.5,133.8 563,132.8" fill="#858380" stroke="#5a5856" stroke-width="0.7" stroke-linejoin="round"/>
<polygon points="208,96 424.5,175.5 594,116.5 594,121.5 424.5,180.5 208,101" fill="#7d7b78"/>
<polygon points="424.5,175.5 594,116.5 594,121.5 424.5,180.5" fill="#7a7875"/>
<polyline points="208,100.5 424.5,180" fill="none" stroke="#989693" stroke-width="0.8" stroke-linecap="butt" stroke-linejoin="round"/>
<polygon points="208,96 378,36 594,116.5 424.5,175.5" fill="#e2dedb" stroke="#6f6d6b" stroke-width="0.9" stroke-linejoin="round"/>
<ellipse cx="250.7" cy="97.4" rx="1.7" ry="1.2" fill="#7d7b78"/>
<ellipse cx="250.7" cy="97.4" rx="0.9" ry="0.6" fill="#4a4947"/>
<ellipse cx="267.4" cy="91.6" rx="1.7" ry="1.2" fill="#7d7b78"/>
<ellipse cx="267.4" cy="91.6" rx="0.9" ry="0.6" fill="#4a4947"/>
<ellipse cx="299.2" cy="80.1" rx="1.7" ry="1.2" fill="#7d7b78"/>
<ellipse cx="299.2" cy="80.1" rx="0.9" ry="0.6" fill="#4a4947"/>
<ellipse cx="315.9" cy="74.2" rx="1.7" ry="1.2" fill="#7d7b78"/>
<ellipse cx="315.9" cy="74.2" rx="0.9" ry="0.6" fill="#4a4947"/>
<ellipse cx="348.4" cy="62.5" rx="1.7" ry="1.2" fill="#7d7b78"/>
<ellipse cx="348.4" cy="62.5" rx="0.9" ry="0.6" fill="#4a4947"/>
<ellipse cx="365.3" cy="56.8" rx="1.7" ry="1.2" fill="#7d7b78"/>
<ellipse cx="365.3" cy="56.8" rx="0.9" ry="0.6" fill="#4a4947"/>
<ellipse cx="293.1" cy="113.1" rx="1.7" ry="1.2" fill="#7d7b78"/>
<ellipse cx="293.1" cy="113.1" rx="0.9" ry="0.6" fill="#4a4947"/>
<ellipse cx="309.8" cy="107.3" rx="1.7" ry="1.2" fill="#7d7b78"/>
<ellipse cx="309.8" cy="107.3" rx="0.9" ry="0.6" fill="#4a4947"/>
<ellipse cx="341.6" cy="95.8" rx="1.7" ry="1.2" fill="#7d7b78"/>
<ellipse cx="341.6" cy="95.8" rx="0.9" ry="0.6" fill="#4a4947"/>
<ellipse cx="358.3" cy="89.9" rx="1.7" ry="1.2" fill="#7d7b78"/>
<ellipse cx="358.3" cy="89.9" rx="0.9" ry="0.6" fill="#4a4947"/>
<ellipse cx="390.8" cy="78.2" rx="1.7" ry="1.2" fill="#7d7b78"/>
<ellipse cx="390.8" cy="78.2" rx="0.9" ry="0.6" fill="#4a4947"/>
<ellipse cx="407.7" cy="72.5" rx="1.7" ry="1.2" fill="#7d7b78"/>
<ellipse cx="407.7" cy="72.5" rx="0.9" ry="0.6" fill="#4a4947"/>
<ellipse cx="335.6" cy="128.7" rx="1.7" ry="1.2" fill="#7d7b78"/>
<ellipse cx="335.6" cy="128.7" rx="0.9" ry="0.6" fill="#4a4947"/>
<ellipse cx="352.3" cy="122.9" rx="1.7" ry="1.2" fill="#7d7b78"/>
<ellipse cx="352.3" cy="122.9" rx="0.9" ry="0.6" fill="#4a4947"/>
<ellipse cx="384.1" cy="111.4" rx="1.7" ry="1.2" fill="#7d7b78"/>
<ellipse cx="384.1" cy="111.4" rx="0.9" ry="0.6" fill="#4a4947"/>
<ellipse cx="400.8" cy="105.5" rx="1.7" ry="1.2" fill="#7d7b78"/>
<ellipse cx="400.8" cy="105.5" rx="0.9" ry="0.6" fill="#4a4947"/>
<ellipse cx="433.3" cy="93.8" rx="1.7" ry="1.2" fill="#7d7b78"/>
<ellipse cx="433.3" cy="93.8" rx="0.9" ry="0.6" fill="#4a4947"/>
<ellipse cx="450.2" cy="88.1" rx="1.7" ry="1.2" fill="#7d7b78"/>
<ellipse cx="450.2" cy="88.1" rx="0.9" ry="0.6" fill="#4a4947"/>
<ellipse cx="378.1" cy="144.4" rx="1.7" ry="1.2" fill="#7d7b78"/>
<ellipse cx="378.1" cy="144.4" rx="0.9" ry="0.6" fill="#4a4947"/>
<ellipse cx="394.8" cy="138.6" rx="1.7" ry="1.2" fill="#7d7b78"/>
<ellipse cx="394.8" cy="138.6" rx="0.9" ry="0.6" fill="#4a4947"/>
<ellipse cx="426.6" cy="127.1" rx="1.7" ry="1.2" fill="#7d7b78"/>
<ellipse cx="426.6" cy="127.1" rx="0.9" ry="0.6" fill="#4a4947"/>
<ellipse cx="443.2" cy="121.2" rx="1.7" ry="1.2" fill="#7d7b78"/>
<ellipse cx="443.2" cy="121.2" rx="0.9" ry="0.6" fill="#4a4947"/>
<ellipse cx="475.8" cy="109.5" rx="1.7" ry="1.2" fill="#7d7b78"/>
<ellipse cx="475.8" cy="109.5" rx="0.9" ry="0.6" fill="#4a4947"/>
<ellipse cx="492.6" cy="103.8" rx="1.7" ry="1.2" fill="#7d7b78"/>
<ellipse cx="492.6" cy="103.8" rx="0.9" ry="0.6" fill="#4a4947"/>
<ellipse cx="420.5" cy="160" rx="1.7" ry="1.2" fill="#7d7b78"/>
<ellipse cx="420.5" cy="160" rx="0.9" ry="0.6" fill="#4a4947"/>
<ellipse cx="437.2" cy="154.2" rx="1.7" ry="1.2" fill="#7d7b78"/>
<ellipse cx="437.2" cy="154.2" rx="0.9" ry="0.6" fill="#4a4947"/>
<ellipse cx="469" cy="142.7" rx="1.7" ry="1.2" fill="#7d7b78"/>
<ellipse cx="469" cy="142.7" rx="0.9" ry="0.6" fill="#4a4947"/>
<ellipse cx="485.7" cy="136.8" rx="1.7" ry="1.2" fill="#7d7b78"/>
<ellipse cx="485.7" cy="136.8" rx="0.9" ry="0.6" fill="#4a4947"/>
<ellipse cx="518.2" cy="125.1" rx="1.7" ry="1.2" fill="#7d7b78"/>
<ellipse cx="518.2" cy="125.1" rx="0.9" ry="0.6" fill="#4a4947"/>
<ellipse cx="535.1" cy="119.4" rx="1.7" ry="1.2" fill="#7d7b78"/>
<ellipse cx="535.1" cy="119.4" rx="0.9" ry="0.6" fill="#4a4947"/>
<ellipse cx="217.3" cy="95.9" rx="3.4" ry="1.5" fill="#77757a" transform="rotate(-20 217.3 95.9)"/>
<ellipse cx="217.3" cy="95.9" rx="2.2" ry="0.8" fill="#55534f" transform="rotate(-20 217.3 95.9)"/>
<ellipse cx="260.4" cy="80.7" rx="3.4" ry="1.5" fill="#77757a" transform="rotate(20 260.4 80.7)"/>
<ellipse cx="260.4" cy="80.7" rx="2.2" ry="0.8" fill="#55534f" transform="rotate(20 260.4 80.7)"/>
<ellipse cx="335.7" cy="54.3" rx="3.4" ry="1.5" fill="#77757a" transform="rotate(20 335.7 54.3)"/>
<ellipse cx="335.7" cy="54.3" rx="2.2" ry="0.8" fill="#55534f" transform="rotate(20 335.7 54.3)"/>
<ellipse cx="378.7" cy="38.8" rx="3.4" ry="1.5" fill="#77757a" transform="rotate(-20 378.7 38.8)"/>
<ellipse cx="378.7" cy="38.8" rx="2.2" ry="0.8" fill="#55534f" transform="rotate(-20 378.7 38.8)"/>
<ellipse cx="284.7" cy="120.1" rx="3.4" ry="1.5" fill="#77757a" transform="rotate(-20 284.7 120.1)"/>
<ellipse cx="284.7" cy="120.1" rx="2.2" ry="0.8" fill="#55534f" transform="rotate(-20 284.7 120.1)"/>
<ellipse cx="356.3" cy="147.4" rx="3.4" ry="1.5" fill="#77757a" transform="rotate(-20 356.3 147.4)"/>
<ellipse cx="356.3" cy="147.4" rx="2.2" ry="0.8" fill="#55534f" transform="rotate(-20 356.3 147.4)"/>
<ellipse cx="423.5" cy="172.3" rx="3.4" ry="1.5" fill="#77757a" transform="rotate(-15 423.5 172.3)"/>
<ellipse cx="423.5" cy="172.3" rx="2.2" ry="0.8" fill="#55534f" transform="rotate(-15 423.5 172.3)"/>
<ellipse cx="466" cy="157" rx="3.4" ry="1.5" fill="#77757a" transform="rotate(20 466 157)"/>
<ellipse cx="466" cy="157" rx="2.2" ry="0.8" fill="#55534f" transform="rotate(20 466 157)"/>
<ellipse cx="541" cy="130.4" rx="3.4" ry="1.5" fill="#77757a" transform="rotate(20 541 130.4)"/>
<ellipse cx="541" cy="130.4" rx="2.2" ry="0.8" fill="#55534f" transform="rotate(20 541 130.4)"/>
<ellipse cx="583.6" cy="115.6" rx="3.4" ry="1.5" fill="#77757a" transform="rotate(-15 583.6 115.6)"/>
<ellipse cx="583.6" cy="115.6" rx="2.2" ry="0.8" fill="#55534f" transform="rotate(-15 583.6 115.6)"/>
<ellipse cx="445.5" cy="63.6" rx="3.4" ry="1.5" fill="#77757a" transform="rotate(-20 445.5 63.6)"/>
<ellipse cx="445.5" cy="63.6" rx="2.2" ry="0.8" fill="#55534f" transform="rotate(-20 445.5 63.6)"/>
<ellipse cx="517.7" cy="90.3" rx="3.4" ry="1.5" fill="#77757a" transform="rotate(-20 517.7 90.3)"/>
<ellipse cx="517.7" cy="90.3" rx="2.2" ry="0.8" fill="#55534f" transform="rotate(-20 517.7 90.3)"/>
<polygon points="40.5,409.5 257,490 418,433 418,437 257,494.5 40.5,414" fill="#b4b4b4"/>
<polygon points="257,490 418,433 418,437 257,494.5" fill="#cdcdcd"/>
<polyline points="40.5,413.8 257,494.3 418,436.8" fill="none" stroke="#8d8d8d" stroke-width="0.7" stroke-linecap="butt" stroke-linejoin="round"/>
<polygon points="40.5,409.5 257,490 418,433 201.5,352.5" fill="#f5f5f5" stroke="#7c7c7c" stroke-width="0.7" stroke-linejoin="round"/>
<polygon points="361.5,384.8 362.5,379.3 366.5,375.3 370.5,374.3 388.8,368.8 388.8,427.8 361.5,437.8" fill="#555557" stroke="#3c3c3c" stroke-width="0.5" stroke-linejoin="round"/>
<polygon points="185.5,309.3 206.5,302.3 388.8,368.8 370.5,374.3 366.5,375.3" fill="#bcbb6b"/>
<polygon points="181.5,316.8 182.5,312.2 185.5,309.3 366.5,375.3 363,378.8 361.5,384.8" fill="#a3a350"/>
<polygon points="181.5,316.8 182.1,314.2 362.1,381.8 361.5,384.8" fill="#969646"/>
<polygon points="181.5,316.8 361.5,384.8 361.5,437.8 181.5,370.8" fill="#807f3c"/>
<polyline points="185.5,309.3 206.5,302.3 388.8,368.8" fill="none" stroke="#6e6c3a" stroke-width="0.7" stroke-linecap="butt" stroke-linejoin="round"/>
<polyline points="185,309.8 366.1,375.8" fill="none" stroke="#5a5828" stroke-width="1" stroke-linecap="butt" stroke-linejoin="round"/>
<polyline points="181.5,316.8 361.5,384.8" fill="none" stroke="#5f5d2c" stroke-width="1" stroke-linecap="butt" stroke-linejoin="round"/>
<polyline points="181.5,316.8 181.5,370.8 361.5,437.8" fill="none" stroke="#5d5b30" stroke-width="0.6" stroke-linecap="butt" stroke-linejoin="round"/>
<polyline points="181.5,316.8 182.5,312.2 185.5,309.3 206.5,302.3" fill="none" stroke="#6e6c3a" stroke-width="0.7" stroke-linecap="butt" stroke-linejoin="round"/>
<polygon points="313,402.3 314,396.8 318,392.8 322,391.8 340.3,386.3 340.3,445.3 313,455.3" fill="#555557" stroke="#3c3c3c" stroke-width="0.5" stroke-linejoin="round"/>
<polygon points="137,326.8 158,319.8 340.3,386.3 322,391.8 318,392.8" fill="#bcbb6b"/>
<polygon points="133,334.3 134,329.7 137,326.8 318,392.8 314.5,396.3 313,402.3" fill="#a3a350"/>
<polygon points="133,334.3 133.6,331.7 313.6,399.3 313,402.3" fill="#969646"/>
<polygon points="133,334.3 313,402.3 313,455.3 133,388.3" fill="#807f3c"/>
<polyline points="137,326.8 158,319.8 340.3,386.3" fill="none" stroke="#6e6c3a" stroke-width="0.7" stroke-linecap="butt" stroke-linejoin="round"/>
<polyline points="136.5,327.3 317.6,393.3" fill="none" stroke="#5a5828" stroke-width="1" stroke-linecap="butt" stroke-linejoin="round"/>
<polyline points="133,334.3 313,402.3" fill="none" stroke="#5f5d2c" stroke-width="1" stroke-linecap="butt" stroke-linejoin="round"/>
<polyline points="133,334.3 133,388.3 313,455.3" fill="none" stroke="#5d5b30" stroke-width="0.6" stroke-linecap="butt" stroke-linejoin="round"/>
<polyline points="133,334.3 134,329.7 137,326.8 158,319.8" fill="none" stroke="#6e6c3a" stroke-width="0.7" stroke-linecap="butt" stroke-linejoin="round"/>
<polygon points="264,420 265,414.5 269,410.5 273,409.5 291.3,404 291.3,463 264,473" fill="#555557" stroke="#3c3c3c" stroke-width="0.5" stroke-linejoin="round"/>
<polygon points="88,344.5 109,337.5 291.3,404 273,409.5 269,410.5" fill="#bcbb6b"/>
<polygon points="84,352 85,347.4 88,344.5 269,410.5 265.5,414 264,420" fill="#a3a350"/>
<polygon points="84,352 84.6,349.4 264.6,417 264,420" fill="#969646"/>
<polygon points="84,352 264,420 264,473 84,406" fill="#807f3c"/>
<polyline points="88,344.5 109,337.5 291.3,404" fill="none" stroke="#6e6c3a" stroke-width="0.7" stroke-linecap="butt" stroke-linejoin="round"/>
<polyline points="87.5,345 268.6,411" fill="none" stroke="#5a5828" stroke-width="1" stroke-linecap="butt" stroke-linejoin="round"/>
<polyline points="84,352 264,420" fill="none" stroke="#5f5d2c" stroke-width="1" stroke-linecap="butt" stroke-linejoin="round"/>
<polyline points="84,352 84,406 264,473" fill="none" stroke="#5d5b30" stroke-width="0.6" stroke-linecap="butt" stroke-linejoin="round"/>
<polyline points="84,352 85,347.4 88,344.5 109,337.5" fill="none" stroke="#6e6c3a" stroke-width="0.7" stroke-linecap="butt" stroke-linejoin="round"/>
</g>
<polyline points="646,198 455.2,270.2" fill="none" stroke="#d3262b" stroke-width="1.7" stroke-linecap="butt" stroke-linejoin="round"/>
<polyline points="461.4,264 455.2,270.2 464,270.7" fill="none" stroke="#d3262b" stroke-width="1.7" stroke-linecap="butt" stroke-linejoin="round"/>
<polyline points="656,386.5 531,321.4" fill="none" stroke="#d3262b" stroke-width="1.7" stroke-linecap="butt" stroke-linejoin="round"/>
<polyline points="539.8,321.9 531,321.4 536.4,328.3" fill="none" stroke="#d3262b" stroke-width="1.7" stroke-linecap="butt" stroke-linejoin="round"/>
<polyline points="580,412.5 462,341" fill="none" stroke="#d3262b" stroke-width="1.7" stroke-linecap="butt" stroke-linejoin="round"/>
<polyline points="471.1,342.3 462,341 467.4,348.5" fill="none" stroke="#d3262b" stroke-width="1.7" stroke-linecap="butt" stroke-linejoin="round"/>
<polyline points="479.8,450 412.6,295.8" fill="none" stroke="#d3262b" stroke-width="1.7" stroke-linecap="butt" stroke-linejoin="round"/>
<polyline points="419.3,302.2 412.6,295.8 412.7,305" fill="none" stroke="#d3262b" stroke-width="1.7" stroke-linecap="butt" stroke-linejoin="round"/>
<polyline points="80,303.5 147,364.5" fill="none" stroke="#d3262b" stroke-width="1.7" stroke-linecap="butt" stroke-linejoin="round"/>
<polyline points="137.9,361.1 147,364.5 142.8,355.8" fill="none" stroke="#d3262b" stroke-width="1.7" stroke-linecap="butt" stroke-linejoin="round"/>
<polyline points="80,303.5 147,395.5" fill="none" stroke="#d3262b" stroke-width="1.7" stroke-linecap="butt" stroke-linejoin="round"/>
<polyline points="138.8,390.3 147,395.5 144.6,386.1" fill="none" stroke="#d3262b" stroke-width="1.7" stroke-linecap="butt" stroke-linejoin="round"/>
<g font-family="'Liberation Sans', 'Noto Sans CJK SC', sans-serif" fill="#444444">
<text transform="translate(651.6 201.8) scale(1.17 1)" font-size="11.8">移动隔板</text>
<text transform="translate(656.6 392.4) scale(1.17 1)" font-size="11.8">油缸</text>
<text transform="translate(590.6 419.8) scale(1.17 1)" font-size="11.8">调节丝杠</text>
<text transform="translate(489.4 455) scale(1.17 1)" font-size="11.8">内腔活动范围<tspan letter-spacing="0.5">130</tspan><tspan textLength="7.4" lengthAdjust="spacingAndGlyphs">-</tspan><tspan letter-spacing="0.5">150</tspan></text>
<text transform="translate(63.6 297.4) scale(1.17 1)" font-size="11.8">光面</text>
</g>
</svg>
</body>
</html>
